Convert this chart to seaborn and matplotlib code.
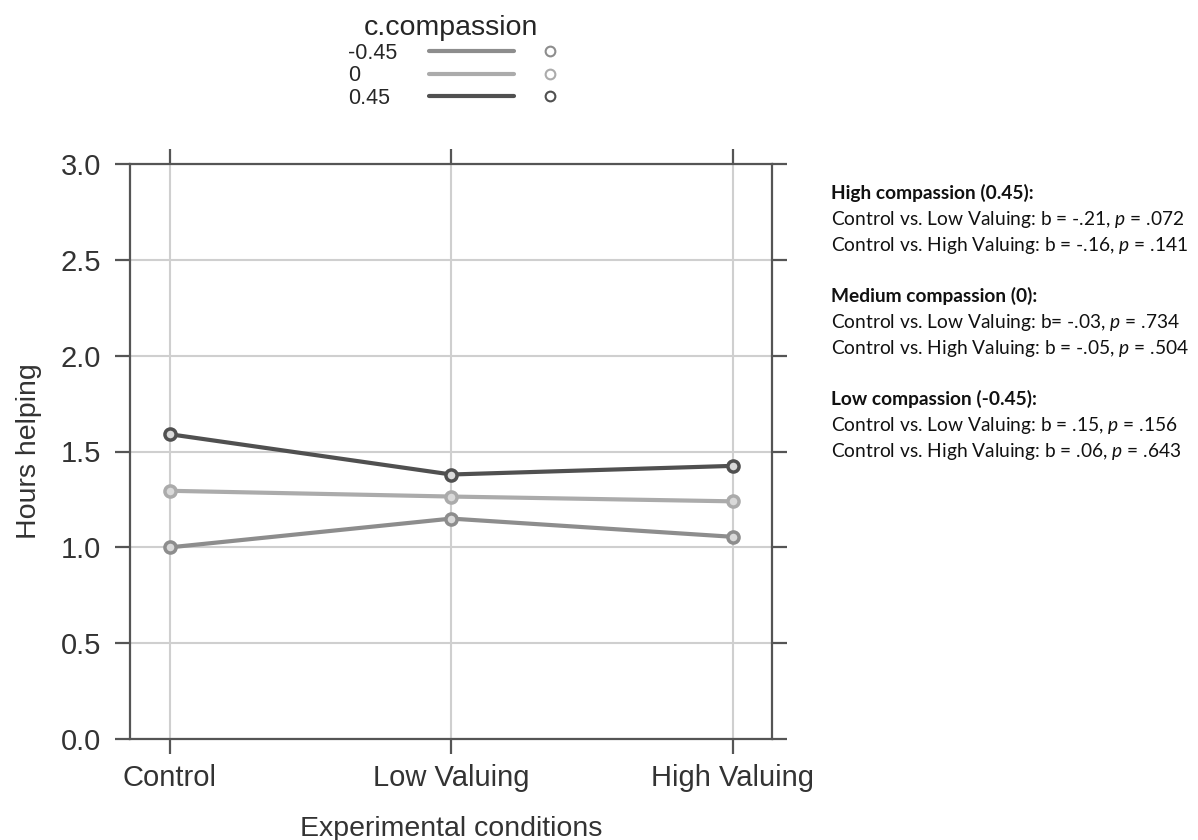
import matplotlib
matplotlib.use("Agg")
import matplotlib.pyplot as plt
import seaborn as sns
import pandas as pd
from matplotlib.lines import Line2D
from matplotlib.legend_handler import HandlerBase

# data
conditions = ["Control", "Low Valuing", "High Valuing"]
levels = ["-0.45", "0", "0.45"]
low_comp = [1.00, 1.15, 1.055]
med_comp = [1.295, 1.265, 1.24]
high_comp = [1.59, 1.38, 1.425]
level_colors = ["#8d8d8d", "#ababab", "#505050"]

notes = [
    ("High compassion (0.45):", True),
    ("Control vs. Low Valuing: b = -.21, $p$ = .072", False),
    ("Control vs. High Valuing: b = -.16, $p$ = .141", False),
    ("", False),
    ("Medium compassion (0):", True),
    ("Control vs. Low Valuing: b= -.03, $p$ = .734", False),
    ("Control vs. High Valuing: b = -.05, $p$ = .504", False),
    ("", False),
    ("Low compassion (-0.45):", True),
    ("Control vs. Low Valuing: b = .15, $p$ = .156", False),
    ("Control vs. High Valuing: b = .06, $p$ = .643", False),
]

df = pd.DataFrame({
    "condition": conditions * 3,
    "hours": low_comp + med_comp + high_comp,
    "compassion": [lv for lv in levels for _ in conditions],
})


# legend key like lattice: a line, then a separate open circle
class LineThenDot(HandlerBase):
    def create_artists(self, legend, orig_handle, xdescent, ydescent,
                       width, height, fontsize, trans):
        c = orig_handle.get_color()
        y = height / 2 - ydescent
        x0 = -xdescent
        ln = Line2D([x0, x0 + 0.68 * width], [y, y], color=c, lw=3, transform=trans)
        dot = Line2D([x0 + 0.968 * width], [y], color=c, marker="o", ls="none",
                     mfc="none", ms=7, mew=1.5, transform=trans)
        return [ln, dot]


sns.set_style("white")
plt.rcParams["font.family"] = ["Liberation Sans", "DejaVu Sans"]
plt.rcParams["mathtext.fontset"] = "custom"
plt.rcParams["mathtext.rm"] = "Lato"
plt.rcParams["mathtext.it"] = "Lato:italic"

fig = plt.figure(figsize=(11.98, 8.4), dpi=100)
ax = fig.add_axes([0.1085, 0.1202, 0.5359, 0.6846])

sns.pointplot(data=df, x="condition", y="hours", hue="compassion",
              order=conditions, hue_order=levels, palette=level_colors,
              markers="o", errorbar=None, dodge=False, ax=ax,
              linewidth=3, markersize=8)

for ln in ax.lines:
    c = ln.get_color()
    ln.set_markerfacecolor("#d9d9d9")
    ln.set_markeredgecolor(c)
    ln.set_markeredgewidth(2.5)
    ln.set_linewidth(3)

ax.set_xlim(-0.142, 2.14)
ax.set_ylim(0, 3)
ax.set_yticks([0, 0.5, 1, 1.5, 2, 2.5, 3])
ax.set_yticklabels(["0.0", "0.5", "1.0", "1.5", "2.0", "2.5", "3.0"])
ax.grid(True, color="#cfcfcf", linewidth=1.5)
ax.set_axisbelow(True)
for sp in ax.spines.values():
    sp.set_color("#555555")
    sp.set_linewidth(1.6)
ax.tick_params(axis="both", direction="out", length=11, width=1.6,
               color="#555555", labelsize=21, labelcolor="#333333",
               top=True, right=True, bottom=True, left=True)
ax.tick_params(axis="y", pad=10)
ax.tick_params(axis="x", pad=7)
ax.set_xlabel("Experimental conditions", fontsize=20.5, color="#333333", labelpad=17)
ax.set_ylabel("Hours helping", fontsize=20.5, color="#333333", labelpad=13)

ax.get_legend().remove()
handles = [Line2D([], [], color=c) for c in level_colors]
leg = fig.legend(handles, levels, title="c.compassion", loc="upper center",
                 bbox_to_anchor=(451 / 1198, 1.0), frameon=False, fontsize=15.5,
                 title_fontsize=20.5, markerfirst=False, handlelength=5.8,
                 labelspacing=0.07, handletextpad=1.5, borderpad=0.2,
                 handler_map={Line2D: LineThenDot()})

# left-align the labels: widen the gap for the shorter ones
fig.canvas.draw()
r = fig.canvas.get_renderer()
widths = [t.get_window_extent(r).width for t in leg.get_texts()]
rows = leg._legend_handle_box.get_children()[0].get_children()
for row, w in zip(rows, widths):
    row.sep = row.sep + (max(widths) - w) * 72 / fig.dpi

for i, (txt, bold) in enumerate(notes):
    if not txt:
        continue
    fig.text(831 / 1198, (840 - (199 + i * 25.8)) / 840, txt,
             fontsize=13.8, family="Lato", weight="bold" if bold else "normal",
             color="#111111", va="baseline", ha="left")

fig.savefig("out.png", dpi=100)
